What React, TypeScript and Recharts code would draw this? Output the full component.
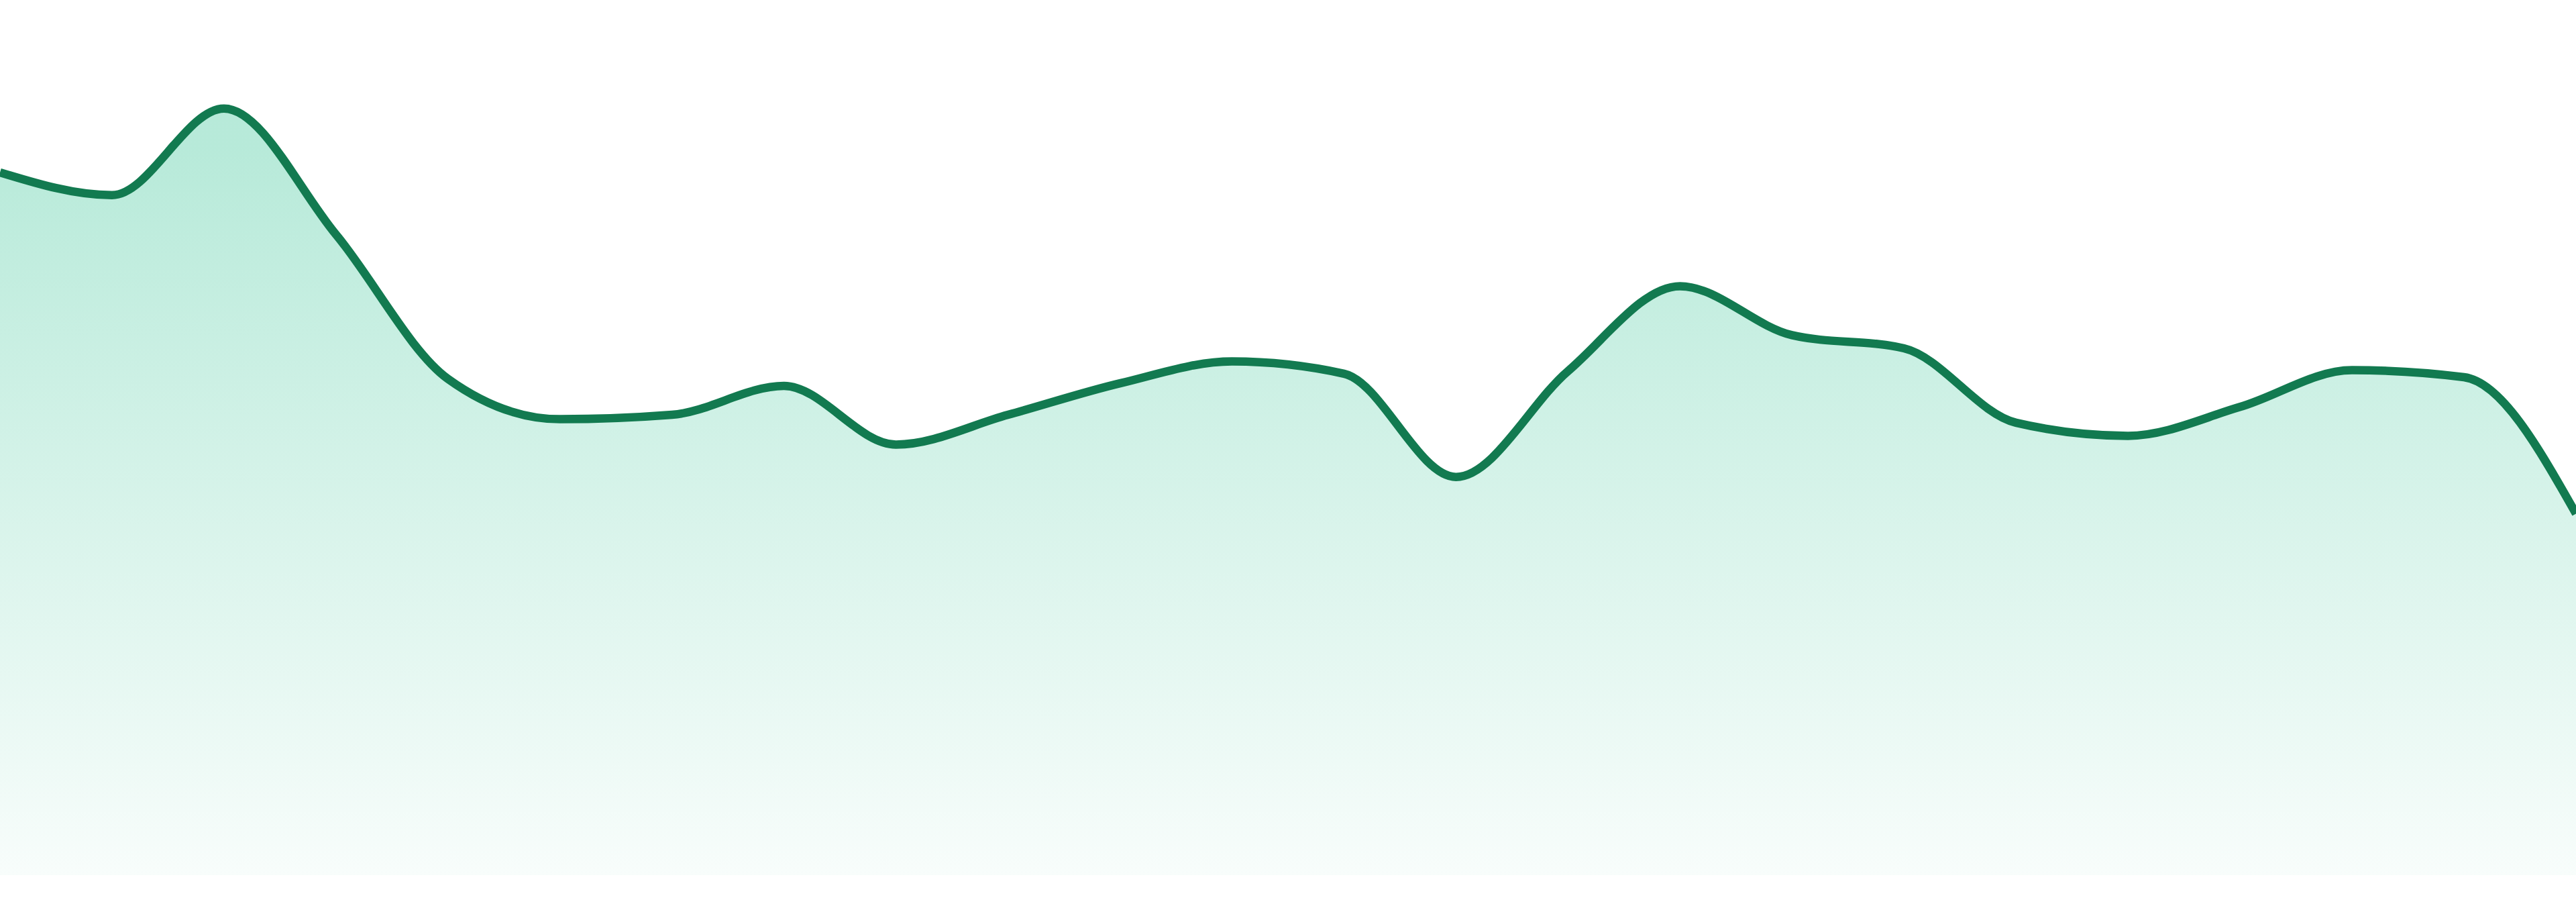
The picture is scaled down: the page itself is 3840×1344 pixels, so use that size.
import { AreaChart, Area, XAxis, YAxis } from "recharts";

// 24 hourly readings, no axes shown in the picture
const hours = [
  "00:00", "01:00", "02:00", "03:00", "04:00", "05:00", "06:00", "07:00",
  "08:00", "09:00", "10:00", "11:00", "12:00", "13:00", "14:00", "15:00",
  "16:00", "17:00", "18:00", "19:00", "20:00", "21:00", "22:00", "23:00",
];
const values = [
  80.3, 77.7, 87.6, 73.2, 56.7, 52.1, 52.6, 55.9,
  49.2, 52.6, 56.2, 58.7, 57.3, 45.5, 57.6, 67.3,
  61.7, 60.2, 51.7, 50.2, 53.5, 57.7, 56.9, 41.3,
];
const yDomain = [0, 100];

const data = hours.map((hour, i) => ({ hour, value: values[i] }));

const App = () => {
  return (
    <div style={{ position: "absolute", left: 0, top: 0, width: 3840, height: 1304 }}>
      <AreaChart width={3840} height={1304} data={data} margin={{ top: 0, right: 0, bottom: 0, left: 0 }}>
        <defs>
          <linearGradient id="fillGreen" x1="0" y1="0" x2="0" y2="1">
            <stop offset="5%" stopColor="#10b981" stopOpacity={0.3} />
            <stop offset="100%" stopColor="#10b981" stopOpacity={0.03} />
          </linearGradient>
        </defs>
        <XAxis dataKey="hour" hide />
        <YAxis domain={yDomain} hide />
        <Area
          type="monotone"
          dataKey="value"
          stroke="#127a50"
          strokeWidth={12.5}
          fill="url(#fillGreen)"
          fillOpacity={1}
          isAnimationActive={false}
          dot={false}
          activeDot={false}
        />
      </AreaChart>
    </div>
  );
};

export default App;
